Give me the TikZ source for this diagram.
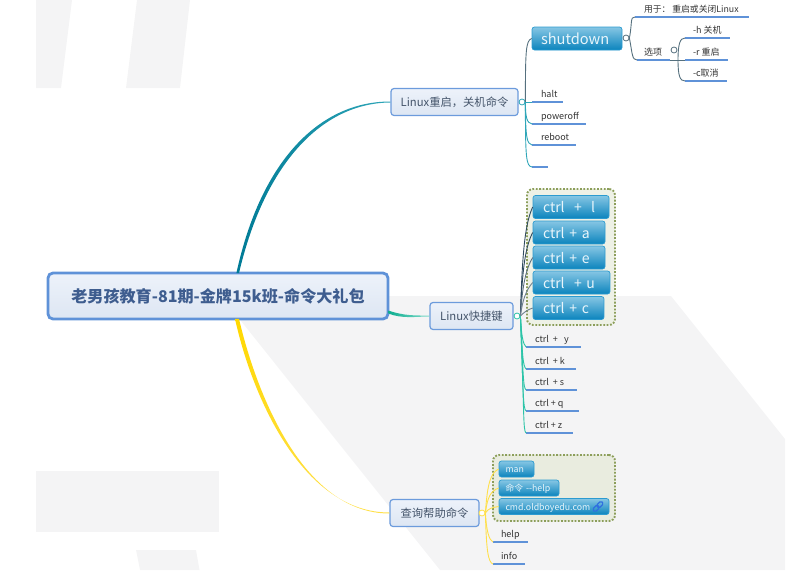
\documentclass[tikz,border=0pt]{standalone}
\usepackage{fontspec}
\setmainfont{Noto Sans CJK SC}
\definecolor{wash}{HTML}{F4F4F5}
\definecolor{rimblue}{HTML}{6C9BDC}
\definecolor{inkblue}{HTML}{3E5D8F}
\definecolor{inkslate}{HTML}{44546A}
\definecolor{lineblue}{HTML}{5F92D8}
\definecolor{paletop}{HTML}{EDF2FA}
\definecolor{palebottom}{HTML}{DDE6F3}
\definecolor{glosstop}{HTML}{86C6E4}
\definecolor{glossmid}{HTML}{3FA3D3}
\definecolor{glossbottom}{HTML}{0B84BD}
\definecolor{glossrim}{HTML}{2C9BD0}
\definecolor{glosstext}{HTML}{E8F5FB}
\definecolor{dotolive}{HTML}{8C9E5A}
\definecolor{frameupper}{HTML}{EEF1E6}
\definecolor{framelower}{HTML}{E9ECDF}
\definecolor{chainblue}{HTML}{2F6FE0}
\definecolor{tealgrey}{HTML}{55707E}
\definecolor{tealbranch}{HTML}{2FA6B8}
\definecolor{tealdeep}{HTML}{007B96}
\definecolor{darkbranch}{HTML}{2F4A5F}
\definecolor{greenbranch}{HTML}{2CC4A8}
\definecolor{greendeep}{HTML}{0FAE90}
\definecolor{yellowbranch}{HTML}{FFE04A}
\definecolor{yellowdeep}{HTML}{FFD800}
\tikzset{
  rootbox/.style={draw=lineblue, line width=2.8pt, rounded corners=5pt, top color=paletop, bottom color=palebottom,
    text=inkblue, font=\fontsize{16.1}{18}\selectfont\bfseries, minimum width=340pt, minimum height=46pt, inner sep=0pt},
  topicbox/.style={draw=rimblue, line width=1.2pt, rounded corners=3pt, top color=paletop, bottom color=palebottom,
    text=inkslate, font=\fontsize{11.3}{13}\selectfont, minimum height=27pt, inner sep=0pt},
  bluebox/.style={draw=glossrim, line width=.7pt, rounded corners=2.5pt, top color=glosstop, middle color=glossmid, bottom color=glossbottom,
    text=glosstext, align=left, inner ysep=0pt, inner xsep=10pt, minimum height=23pt, text height=13pt, text depth=2pt, font=\fontsize{14}{16}\selectfont},
  smallblue/.style={bluebox, inner xsep=6.5pt, minimum height=16pt, text height=8pt, text depth=1pt, font=\fontsize{8.8}{11}\selectfont},
  framebox/.style={draw=dotolive, fill=#1, line width=1.9pt, dash pattern=on 1.8pt off 1.6pt, rounded corners=6pt, inner sep=0pt},
  leaf/.style={anchor=south west, inner xsep=9pt, inner ysep=1.5pt, outer sep=0pt, text height=7.5pt, text depth=3pt, text=black!80,
    font=\fontsize{9}{11}\selectfont,
    append after command={(\tikzlastnode.south west) edge[draw=lineblue, line width=1.5pt] ++(#1,0)}},
  knob/.style={draw=#1, fill=white, circle, line width=.8pt, minimum size=6pt, inner sep=0pt},
  twig/.style={draw=#1, line width=.9pt}
}
\begin{document}
\begin{tikzpicture}[x=1pt, y=-1pt]
        \useasboundingbox (0,0) rectangle (802,570);

        \fill[wash] (36,0) -- (72,0) -- (61,88) -- (36,88) -- cycle;
        \fill[wash] (137,0) -- (190,0) -- (180,88) -- (126,88) -- cycle;
        \fill[wash] (36,471) rectangle (218.5,532);
        \fill[wash] (136,550) -- (196,550) -- (199.5,570) -- (140,570) -- cycle;
        \fill[wash] (221,296) -- (671,296) -- (785,439) -- (785,570) -- (440,570) -- cycle;

        \node[framebox=frameupper] (ctrlframe) at (571,257) [minimum width=88pt, minimum height=136pt] {};
        \node[framebox=framelower] (helpframe) at (554,488) [minimum width=122pt, minimum height=66pt] {};

        \node[rootbox] (root) at (218,296) {老男孩教育-81期-金牌15k班-命令大礼包};
        \node[topicbox, minimum width=127pt] (reboottopic) at (454.5,102) {Linux重启，关机命令};
        \node[topicbox, minimum width=83pt] (keytopic) at (471.5,316) {Linux快捷键};
        \node[topicbox, minimum width=89pt] (helptopic) at (434.5,513) {查询帮助命令};

        \shade[left color=tealdeep, right color=tealbranch] ([xshift=18.4pt,yshift=-1.5pt]root.north) .. controls (261,160) and (320,101.4) .. ([yshift=.5pt]reboottopic.west)
          -- ([yshift=-.5pt]reboottopic.west) .. controls (323,103) and (265,162) .. ([xshift=21pt,yshift=-1.5pt]root.north) -- cycle;
        \shade[left color=greendeep, right color=greenbranch!60] ([yshift=-14.5pt,xshift=-1pt]root.east) .. controls (404,316) and (416,315.5) .. ([yshift=.5pt]keytopic.west)
          -- ([yshift=-.5pt]keytopic.west) .. controls (416,316.5) and (402,319) .. ([yshift=-17.5pt,xshift=-1pt]root.east) -- cycle;
        \shade[top color=yellowdeep, bottom color=yellowbranch] ([xshift=17pt,yshift=1.5pt]root.south) .. controls (253,400) and (304,512.5) .. ([yshift=.5pt]helptopic.west)
          -- ([yshift=-.5pt]helptopic.west) .. controls (306,513.5) and (258,400) .. ([xshift=21pt,yshift=1.5pt]root.south) -- cycle;

        \node[bluebox, inner xsep=9pt, font=\fontsize{14.6}{16}\selectfont, minimum width=90pt, text width=72pt] (shutdown) at (577,38.5) {shutdown};
        \node[bluebox, minimum width=76pt, text width=56pt] (ctrll) at (571,207) {\mbox{ctrl\ \ +\ \ l}};
        \node[bluebox, minimum width=72pt, text width=52pt] (ctrla) at (569,232.5) {ctrl + a};
        \node[bluebox, minimum width=72pt, text width=52pt] (ctrle) at (569,257.5) {ctrl + e};
        \node[bluebox, minimum width=77pt, text width=57pt] (ctrlu) at (571.5,282.5) {ctrl\ \ + u};
        \node[bluebox, minimum width=71pt, text width=51pt] (ctrlc) at (568.5,308) {ctrl + c};
        \node[smallblue, minimum width=35pt, text width=22pt] (man) at (516.5,469) {man};
        \node[smallblue, minimum width=60pt, text width=47pt] (helpopt) at (529,488) {命令 -{}-help};
        \node[smallblue, minimum width=110pt, text width=97pt] (site) at (554,506.5) {cmd.oldboyedu.com};

        \begin{scope}[shift={(598,506.5)}, rotate=45]
          \draw[chainblue, line width=1.2pt, rounded corners=1.5pt] (-6,-2) rectangle (0.5,2);
          \draw[chainblue, line width=1.2pt, rounded corners=1.5pt] (-0.5,-2) rectangle (6,2);
        \end{scope}

        \node[leaf=114, font=\fontsize{8.8}{11}\selectfont] (purpose) at (635,17) {用于：\ 重启或关闭Linux};
        \node[leaf=33, inner xsep=7pt] (options) at (637,60) {选项};
        \node[leaf=45, inner xsep=8pt] (hopt) at (685,38) {-h 关机};
        \node[leaf=43, inner xsep=8pt] (ropt) at (685,60) {-r 重启};
        \node[leaf=42, inner xsep=8pt] (copt) at (685,81) {-c取消};
        \node[leaf=31] (halt) at (532,102) {halt};
        \node[leaf=54] (poweroff) at (532,124) {poweroff};
        \node[leaf=44] (reboot) at (532,145) {reboot};
        \node[leaf=16] (blank) at (532,167) {};
        \node[leaf=55] (ctrly) at (526,347) {ctrl\ \ +\ \ \ y};
        \node[leaf=50] (ctrlk) at (526,369) {ctrl\ \ + k};
        \node[leaf=51] (ctrls) at (526,390) {ctrl\ \ + s};
        \node[leaf=53] (ctrlq) at (526,411) {ctrl + q};
        \node[leaf=47] (ctrlz) at (526,433) {ctrl + z};
        \node[leaf=35, inner xsep=8pt] (help) at (493,542) {help};
        \node[leaf=32, inner xsep=8pt] (info) at (493,564) {info};

        \node[knob=tealbranch] (rebootknob) at (522,102) {};
        \node[knob=tealgrey] (shutknob) at (626,38) {};
        \node[knob=tealgrey] (optknob) at (674,50) {};
        \node[knob=greenbranch] (keyknob) at (517,316) {};
        \node[knob=yellowbranch] (helpknob) at (482,513) {};

        \draw[twig=tealgrey] (rebootknob.east) .. controls +(0,-50) and +(-6,2) .. (shutdown.west);
        \draw[twig=tealbranch] (rebootknob.east) -- (halt.south west);
        \draw[twig=tealbranch] (rebootknob.east) .. controls +(0,16) and +(-5,-1) .. (poweroff.south west);
        \draw[twig=tealbranch] (rebootknob.east) .. controls +(0,36) and +(-5,-1) .. (reboot.south west);
        \draw[twig=tealbranch] (rebootknob.east) .. controls +(0,56) and +(-6,-1) .. (blank.south west);

        \draw[twig=tealgrey] (shutknob.east) .. controls +(3,-16) and +(-5,0) .. (purpose.south west);
        \draw[twig=tealgrey] (shutknob.east) .. controls +(3,16) and +(-5,0) .. (options.south west);
        \draw[twig=tealgrey] (options.south west) ++(33,0) -- (ropt.south west);
        \draw[twig=tealgrey] (options.south west) ++(41,0) .. controls +(0,-16) and +(-5,0) .. (hopt.south west);
        \draw[twig=tealgrey] (options.south west) ++(41,0) .. controls +(0,16) and +(-5,0) .. (copt.south west);

        \draw[twig=darkbranch] (keyknob.east) .. controls +(2,-70) and +(-7,16) .. (ctrll.west);
        \draw[twig=darkbranch] (keyknob.east) .. controls +(2,-50) and +(-7,14) .. (ctrla.west);
        \draw[twig=darkbranch!80] (keyknob.east) .. controls +(2,-30) and +(-7,12) .. (ctrle.west);
        \draw[twig=darkbranch!70] (keyknob.east) .. controls +(2,-15) and +(-7,8) .. (ctrlu.west);
        \draw[twig=darkbranch!70] (keyknob.east) .. controls +(3,-3) and +(-6,2) .. (ctrlc.west);
        \draw[twig=greenbranch] (keyknob.east) .. controls +(1,20) and +(-3,-3) .. (ctrly.south west);
        \draw[twig=greenbranch] (keyknob.east) .. controls +(2,40) and +(-3,-3) .. (ctrlk.south west);
        \draw[twig=greenbranch] (keyknob.east) .. controls +(3,60) and +(-3,-3) .. (ctrls.south west);
        \draw[twig=greenbranch] (keyknob.east) .. controls +(3,80) and +(-3,-3) .. (ctrlq.south west);
        \draw[twig=greenbranch] (keyknob.east) .. controls +(4,100) and +(-3,-3) .. (ctrlz.south west);

        \draw[twig=yellowbranch] (helpknob.east) .. controls +(2,-30) and +(-8,4) .. (man.west);
        \draw[twig=yellowbranch] (helpknob.east) .. controls +(2,-16) and +(-8,3) .. (helpopt.west);
        \draw[twig=yellowbranch] (helpknob.east) .. controls +(3,-5) and +(-6,1) .. (site.west);
        \draw[twig=yellowbranch] (helpknob.east) .. controls +(1,18) and +(-4,-2) .. (help.south west);
        \draw[twig=yellowbranch] (helpknob.east) .. controls +(1,38) and +(-5,-2) .. (info.south west);
      \end{tikzpicture}
\end{document}
